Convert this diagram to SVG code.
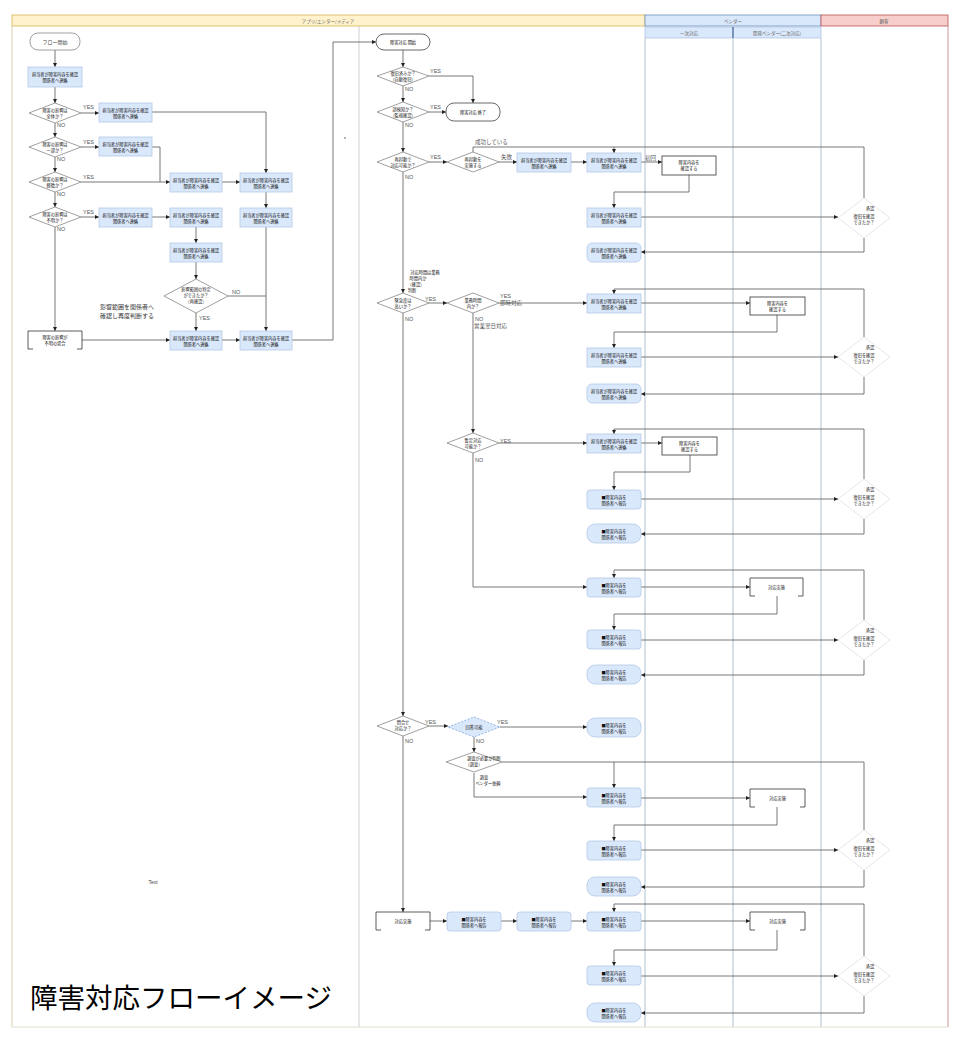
<svg xmlns="http://www.w3.org/2000/svg" width="960" height="1040" viewBox="0 0 960 1040">
<defs>
<marker id="a" viewBox="0 0 6 6" refX="6" refY="3" markerWidth="4" markerHeight="4" markerUnits="userSpaceOnUse" orient="auto"><path d="M0,0 L6,3 L0,6 z" fill="#222"/></marker>
<style>
.b{fill:#dae8fc;stroke:#b4c8e4;stroke-width:0.8}
.w{fill:#fff;stroke:#333;stroke-width:0.8}
.s{fill:#fff;stroke:#888;stroke-width:0.8}
.d{fill:#fff;stroke:#777;stroke-width:0.7}
.dd{fill:#dae8fc;stroke:#7ea6e0;stroke-width:0.8;stroke-dasharray:2 1.5}
.br{fill:none;stroke:#333;stroke-width:0.8}
.c{fill:none;stroke:#555;stroke-width:0.8;marker-end:url(#a)}
.n{fill:none;stroke:#555;stroke-width:0.8}
.t{font-family:"Noto Sans CJK JP","Liberation Sans",sans-serif;font-size:4.2px;fill:#111;text-anchor:middle}
.l{font-family:"Liberation Sans","Noto Sans CJK JP",sans-serif;font-size:5.5px;fill:#555}
.h{font-family:"Noto Sans CJK JP",sans-serif;font-size:4.5px;fill:#666;text-anchor:middle}
.lane{stroke:#c9d6de;stroke-width:1.5}
</style>
</defs>

<g id="lanes">
<rect x="12" y="15" width="633" height="11" fill="#fff2cc" stroke="#d6b656" stroke-width="0.8"/>
<text class="h" x="328" y="22.5">アプリ/エンター/メディア</text>
<rect x="645" y="15" width="176" height="11" fill="#dae8fc" stroke="#6c8ebf" stroke-width="0.8"/>
<text class="h" x="733" y="22.5">ベンダー</text>
<rect x="821" y="15" width="127" height="11" fill="#f8cecc" stroke="#b85450" stroke-width="0.8"/>
<text class="h" x="884" y="22.5">顧客</text>
<rect x="645" y="27" width="88" height="11" fill="#dae8fc" stroke="#9fb6d6" stroke-width="0.6"/>
<rect x="733" y="27" width="88" height="11" fill="#dae8fc" stroke="#9fb6d6" stroke-width="0.6"/>
<line x1="733" y1="27" x2="733" y2="38" stroke="#4a6a96" stroke-width="1.2"/>
<text class="h" x="689" y="34.5">一次対応</text>
<text class="h" x="777" y="34.5">開発ベンダー(二次対応)</text>
<line x1="12" y1="26" x2="12" y2="1027" stroke="#d8d2b0" stroke-width="1"/>
<line x1="12" y1="1027" x2="948" y2="1027" stroke="#e4e0cc" stroke-width="1"/>
<line x1="359" y1="26" x2="359" y2="1027" stroke="#cfcfcf" stroke-width="1"/>
<line class="lane" x1="645" y1="38" x2="645" y2="1027"/>
<line class="lane" x1="733" y1="38" x2="733" y2="1027"/>
<line class="lane" x1="821" y1="38" x2="821" y2="1027"/>
<line x1="948" y1="26" x2="948" y2="1027" stroke="#c99" stroke-width="1"/>
</g>

<g id="connectors">
<path class="c" d="M55,50V67"/>
<path class="c" d="M55,87V103"/>
<path class="c" d="M81,113H99"/>
<path class="c" d="M152,112H266V173"/>
<path class="c" d="M55,123V137"/>
<path class="c" d="M81,147H99"/>
<path class="n" d="M152,147H160V182"/>
<path class="c" d="M55,157V172"/>
<path class="c" d="M81,182H170"/>
<path class="c" d="M222,182H240"/>
<path class="c" d="M55,192V207"/>
<path class="c" d="M81,217H99"/>
<path class="c" d="M152,217H170"/>
<path class="c" d="M266,192V208"/>
<path class="c" d="M196,227V243"/>
<path class="c" d="M196,262V279"/>
<path class="n" d="M228,296H266"/>
<path class="c" d="M266,227V331"/>
<path class="c" d="M196,313V331"/>
<path class="c" d="M55,227V331"/>
<path class="c" d="M82,340H170"/>
<path class="c" d="M222,340H240"/>
<path class="c" d="M292,340H333V42H376"/>

<path class="c" d="M403,50V67"/>
<path class="c" d="M429,76H473V103"/>
<path class="c" d="M403,86V102"/>
<path class="c" d="M429,112H446"/>
<path class="c" d="M403,122V152"/>
<path class="c" d="M429,162H447"/>
<path class="c" d="M499,162H517"/>
<path class="c" d="M571,162H587"/>
<path class="c" d="M641,162H662"/>
<path class="n" d="M473,152V147H864V198"/>
<path class="c" d="M614,147V153"/>
<path class="c" d="M689,175V192H614V208"/>
<path class="c" d="M641,217H838"/>
<path class="c" d="M864,238V252H641"/>

<path class="c" d="M403,172V293"/>
<path class="c" d="M429,303H447"/>
<path class="c" d="M499,303H587"/>
<path class="c" d="M641,303H750"/>
<path class="c" d="M777,315V332H614V348"/>
<path class="c" d="M641,357H838"/>
<path class="c" d="M864,337V289H614V294"/>
<path class="c" d="M864,377V394H641"/>
<path class="c" d="M473,313V433"/>
<path class="c" d="M473,453V587H587"/>

<path class="c" d="M499,443H587"/>
<path class="c" d="M641,443H662"/>
<path class="c" d="M690,455V472H614V490"/>
<path class="c" d="M641,499H838"/>
<path class="c" d="M864,479V429H614V434"/>
<path class="c" d="M864,519V534H641"/>

<path class="c" d="M641,587H750"/>
<path class="c" d="M777,596V614H614V630"/>
<path class="c" d="M641,640H838"/>
<path class="c" d="M864,620V570H614V578"/>
<path class="c" d="M864,660V675H641"/>

<path class="c" d="M403,313V716"/>
<path class="c" d="M429,726H448"/>
<path class="c" d="M500,727H587"/>
<path class="c" d="M474,737V752"/>
<path class="n" d="M502,762H864V830"/>
<path class="c" d="M614,762V788"/>
<path class="c" d="M474,773V797H587"/>
<path class="c" d="M641,798H750"/>
<path class="c" d="M777,807V825H614V841"/>
<path class="c" d="M641,850H838"/>
<path class="c" d="M864,870V887H641"/>

<path class="c" d="M403,736V912"/>
<path class="c" d="M430,921H447"/>
<path class="c" d="M501,921H517"/>
<path class="c" d="M571,921H587"/>
<path class="c" d="M641,921H750"/>
<path class="c" d="M777,930V950H614V966"/>
<path class="c" d="M641,976H838"/>
<path class="c" d="M864,956V904H614V912"/>
<path class="c" d="M864,996V1013H641"/>
</g>

<g id="labels">
<text class="l" x="83" y="109">YES</text><text class="l" x="57" y="127">NO</text>
<text class="l" x="83" y="144">YES</text><text class="l" x="57" y="161">NO</text>
<text class="l" x="83" y="179">YES</text><text class="l" x="57" y="196">NO</text>
<text class="l" x="83" y="214">YES</text><text class="l" x="57" y="231">NO</text>
<text class="l" x="232" y="294">NO</text><text class="l" x="199" y="320">YES</text>
<text class="l" x="430" y="73">YES</text><text class="l" x="405" y="91">NO</text>
<text class="l" x="430" y="109">YES</text><text class="l" x="405" y="127">NO</text>
<text class="l" x="430" y="159">YES</text><text class="l" x="405" y="179">NO</text>
<text class="l" x="475" y="144">成功している</text>
<text class="l" x="501" y="159">失敗</text>
<text class="l" x="645" y="160">初回</text>
<text class="l" x="425" y="301">YES</text><text class="l" x="405" y="321">NO</text>
<text class="l" x="500" y="298">YES</text><text class="l" x="500" y="305">即時対応</text>
<text class="l" x="475" y="321">NO</text><text class="l" x="474" y="328">営業翌日対応</text>
<text class="l" x="500" y="443">YES</text><text class="l" x="475" y="462">NO</text>
<text class="l" x="425" y="724">YES</text><text class="l" x="405" y="743">NO</text>
<text class="l" x="497" y="724">YES</text><text class="l" x="476" y="743">NO</text>
</g>

<g id="n-start"><rect class="s" x="30" y="33" width="50" height="17" rx="8"/><text class="t" x="55" y="43.5" style="font-size:5px;fill:#444">フロー開始</text></g>
<g id="n-a1"><rect class="b" x="28" y="67" width="54" height="20"/><text class="t" x="55" y="76">担当者が障害内容を確認</text><text class="t" x="55" y="82">関係者へ連絡</text></g>
<g id="n-d1"><path class="d" d="M29,113L55,103L81,113L55,123Z"/><text class="t" x="55" y="112">障害の影響は</text><text class="t" x="55" y="117.5">全体か？</text></g>
<g id="n-b1"><rect class="b" x="99" y="103" width="53" height="19"/><text class="t" x="125.5" y="111.5">担当者が障害内容を確認</text><text class="t" x="125.5" y="117.5">関係者へ連絡</text></g>
<g id="n-d2"><path class="d" d="M29,147L55,137L81,147L55,157Z"/><text class="t" x="55" y="146">障害の影響は</text><text class="t" x="55" y="151.5">一部か？</text></g>
<g id="n-b2"><rect class="b" x="99" y="137" width="53" height="19"/><text class="t" x="125.5" y="145.5">担当者が障害内容を確認</text><text class="t" x="125.5" y="151.5">関係者へ連絡</text></g>
<g id="n-d3"><path class="d" d="M29,182L55,172L81,182L55,192Z"/><text class="t" x="55" y="181">障害の影響は</text><text class="t" x="55" y="186.5">軽微か？</text></g>
<g id="n-c3"><rect class="b" x="170" y="173" width="52" height="19"/><text class="t" x="196" y="181.5">担当者が障害内容を確認</text><text class="t" x="196" y="187.5">関係者へ連絡</text></g>
<g id="n-e3"><rect class="b" x="240" y="173" width="52" height="19"/><text class="t" x="266" y="181.5">担当者が障害内容を確認</text><text class="t" x="266" y="187.5">関係者へ連絡</text></g>
<g id="n-d4"><path class="d" d="M29,217L55,207L81,217L55,227Z"/><text class="t" x="55" y="216">障害の影響は</text><text class="t" x="55" y="221.5">不明か？</text></g>
<g id="n-b4"><rect class="b" x="99" y="208" width="53" height="19"/><text class="t" x="125.5" y="216.5">担当者が障害内容を確認</text><text class="t" x="125.5" y="222.5">関係者へ連絡</text></g>
<g id="n-c4"><rect class="b" x="170" y="208" width="52" height="19"/><text class="t" x="196" y="216.5">担当者が障害内容を確認</text><text class="t" x="196" y="222.5">関係者へ連絡</text></g>
<g id="n-e4"><rect class="b" x="240" y="208" width="52" height="19"/><text class="t" x="266" y="216.5">担当者が障害内容を確認</text><text class="t" x="266" y="222.5">関係者へ連絡</text></g>
<g id="n-c5"><rect class="b" x="170" y="243" width="52" height="19"/><text class="t" x="196" y="251.5">担当者が障害内容を確認</text><text class="t" x="196" y="257.5">関係者へ連絡</text></g>
<g id="n-d5"><path class="d" d="M164,296L196,279L228,296L196,313Z"/><text class="t" x="196" y="291">影響範囲の特定</text><text class="t" x="196" y="297">ができたか？</text><text class="t" x="196" y="303">（再確認）</text></g>
<g id="n-note1"><text class="t" x="127" y="309" style="font-size:6px;fill:#333">影響範囲を関係者へ</text><text class="t" x="127" y="318" style="font-size:6px;fill:#333">確認し再度判断する</text></g>
<g id="n-l1"><path class="br" d="M28,349V331H82V349M28,349H33M82,349H77"/><text class="t" x="55" y="339">障害の影響が</text><text class="t" x="55" y="345">不明の場合</text></g>
<g id="n-c6"><rect class="b" x="170" y="331" width="52" height="19"/><text class="t" x="196" y="339.5">担当者が障害内容を確認</text><text class="t" x="196" y="345.5">関係者へ連絡</text></g>
<g id="n-e6"><rect class="b" x="240" y="331" width="52" height="19"/><text class="t" x="266" y="339.5">担当者が障害内容を確認</text><text class="t" x="266" y="345.5">関係者へ連絡</text></g>
<g id="n-dot"><circle cx="345" cy="138" r="0.7" fill="#333"/></g>

<g id="n-s2"><rect class="s" x="376" y="34" width="54" height="16" rx="8" style="stroke:#444"/><text class="t" x="403" y="44">障害対応 開始</text></g>
<g id="n-m-d1"><path class="d" d="M377,76L403,67L429,76L403,86Z"/><text class="t" x="403" y="75">復旧済みか？</text><text class="t" x="403" y="80.5">（自動復旧）</text></g>
<g id="n-t2"><rect class="s" x="446" y="103" width="54" height="18" rx="8" style="stroke:#444"/><text class="t" x="473" y="113.5">障害対応 終了</text></g>
<g id="n-m-d2"><path class="d" d="M377,112L403,102L429,112L403,122Z"/><text class="t" x="403" y="111">誤検知か？</text><text class="t" x="403" y="116.5">（監視確認）</text></g>
<g id="n-m-d3"><path class="d" d="M377,162L403,152L429,162L403,172Z"/><text class="t" x="403" y="161">再起動で</text><text class="t" x="403" y="166.5">対応可能か？</text></g>
<g id="n-m-d3b"><path class="d" d="M447,162L473,152L499,162L473,172Z"/><text class="t" x="473" y="161">再起動を</text><text class="t" x="473" y="166.5">実施する</text></g>
<g id="n-m1"><rect class="b" x="517" y="153" width="54" height="19"/><text class="t" x="544" y="161.5">担当者が障害内容を確認</text><text class="t" x="544" y="167.5">関係者へ連絡</text></g>
<g id="n-m2"><rect class="b" x="587" y="153" width="54" height="19"/><text class="t" x="614" y="161.5">担当者が障害内容を確認</text><text class="t" x="614" y="167.5">関係者へ連絡</text></g>
<g id="n-w1"><rect class="w" x="662" y="156" width="54" height="19"/><text class="t" x="689" y="164">障害内容を</text><text class="t" x="689" y="170">確認する</text></g>
<g id="n-m3"><rect class="b" x="587" y="208" width="54" height="19"/><text class="t" x="614" y="216.5">担当者が障害内容を確認</text><text class="t" x="614" y="222.5">関係者へ連絡</text></g>
<g id="n-r1"><path class="d" d="M838,218L864,198L890,218L864,238Z" style="stroke:#ddd"/><text class="t" x="870" y="210">承認</text><text class="t" x="864" y="218">復旧を確認</text><text class="t" x="864" y="224">できたか？</text></g>
<g id="n-m4"><rect class="b" x="587" y="243" width="54" height="19" rx="5"/><text class="t" x="614" y="251.5">担当者が障害内容を確認</text><text class="t" x="614" y="257.5">関係者へ連絡</text></g>

<g id="n-note2"><text class="t" x="425" y="274">対応時間は業務</text><text class="t" x="418" y="280">時間内か</text><text class="t" x="416" y="286">（確認）</text><text class="t" x="412" y="292">判断</text></g>
<g id="n-m-d4"><path class="d" d="M377,303L403,293L429,303L403,313Z"/><text class="t" x="403" y="302">緊急度は</text><text class="t" x="403" y="307.5">高いか？</text></g>
<g id="n-m-d4b"><path class="d" d="M447,303L473,293L499,303L473,313Z"/><text class="t" x="473" y="302">業務時間</text><text class="t" x="473" y="307.5">内か？</text></g>
<g id="n-m5"><rect class="b" x="587" y="294" width="54" height="19"/><text class="t" x="614" y="302.5">担当者が障害内容を確認</text><text class="t" x="614" y="308.5">関係者へ連絡</text></g>
<g id="n-w2"><rect class="w" x="750" y="297" width="55" height="18"/><text class="t" x="777.5" y="305">障害内容を</text><text class="t" x="777.5" y="311">確認する</text></g>
<g id="n-m6"><rect class="b" x="587" y="348" width="54" height="19"/><text class="t" x="614" y="356.5">担当者が障害内容を確認</text><text class="t" x="614" y="362.5">関係者へ連絡</text></g>
<g id="n-r2"><path class="d" d="M838,357L864,337L890,357L864,377Z" style="stroke:#ddd"/><text class="t" x="870" y="349">承認</text><text class="t" x="864" y="357">復旧を確認</text><text class="t" x="864" y="363">できたか？</text></g>
<g id="n-m7"><rect class="b" x="587" y="384" width="54" height="19" rx="5"/><text class="t" x="614" y="392.5">担当者が障害内容を確認</text><text class="t" x="614" y="398.5">関係者へ連絡</text></g>

<g id="n-m-d5"><path class="d" d="M447,443L473,433L499,443L473,453Z"/><text class="t" x="473" y="442">暫定対応</text><text class="t" x="473" y="447.5">可能か？</text></g>
<g id="n-m8"><rect class="b" x="587" y="434" width="54" height="19"/><text class="t" x="614" y="442.5">担当者が障害内容を確認</text><text class="t" x="614" y="448.5">関係者へ連絡</text></g>
<g id="n-w3"><rect class="w" x="662" y="437" width="55" height="18"/><text class="t" x="689.5" y="445">障害内容を</text><text class="t" x="689.5" y="451">確認する</text></g>
<g id="n-m9"><rect class="b" x="587" y="490" width="54" height="19" rx="3"/><text class="t" x="614" y="498.5">■障害内容を</text><text class="t" x="614" y="504.5">関係者へ報告</text></g>
<g id="n-r3"><path class="d" d="M838,499L864,479L890,499L864,519Z" style="stroke:#ddd"/><text class="t" x="870" y="491">承認</text><text class="t" x="864" y="499">復旧を確認</text><text class="t" x="864" y="505">できたか？</text></g>
<g id="n-m10"><rect class="b" x="587" y="524" width="54" height="19" rx="8"/><text class="t" x="614" y="532.5">■障害内容を</text><text class="t" x="614" y="538.5">関係者へ報告</text></g>

<g id="n-m11"><rect class="b" x="587" y="578" width="54" height="19" rx="3"/><text class="t" x="614" y="586.5">■障害内容を</text><text class="t" x="614" y="592.5">関係者へ報告</text></g>
<g id="n-w4"><path class="br" d="M750,596V578H803V596M750,596H755M803,596H798"/><text class="t" x="776.5" y="589">対応実施</text></g>
<g id="n-m12"><rect class="b" x="587" y="630" width="54" height="19" rx="3"/><text class="t" x="614" y="638.5">■障害内容を</text><text class="t" x="614" y="644.5">関係者へ報告</text></g>
<g id="n-r4"><path class="d" d="M838,640L864,620L890,640L864,660Z" style="stroke:#ddd"/><text class="t" x="870" y="632">承認</text><text class="t" x="864" y="640">復旧を確認</text><text class="t" x="864" y="646">できたか？</text></g>
<g id="n-m13"><rect class="b" x="587" y="665" width="54" height="19" rx="8"/><text class="t" x="614" y="673.5">■障害内容を</text><text class="t" x="614" y="679.5">関係者へ報告</text></g>

<g id="n-m-d6"><path class="d" d="M377,726L403,716L429,726L403,736Z"/><text class="t" x="403" y="724">問合せ</text><text class="t" x="403" y="730">対応か？</text></g>
<g id="n-m-d6b"><path class="dd" d="M448,727L474,717L500,727L474,737Z"/><text class="t" x="474" y="729">回答可能</text></g>
<g id="n-m14"><rect class="b" x="587" y="718" width="54" height="19" rx="8"/><text class="t" x="614" y="726.5">■障害内容を</text><text class="t" x="614" y="732.5">関係者へ報告</text></g>
<g id="n-m-d7"><path class="d" d="M446,762L474,752L502,762L474,772Z"/><text class="t" x="484" y="760">調査が必要か判断</text><text class="t" x="474" y="766">（調査）</text></g>
<g id="n-note3"><text class="t" x="484" y="779">調査</text><text class="t" x="488" y="785">ベンダー依頼</text></g>
<g id="n-m15"><rect class="b" x="587" y="788" width="54" height="19" rx="3"/><text class="t" x="614" y="796.5">■障害内容を</text><text class="t" x="614" y="802.5">関係者へ報告</text></g>
<g id="n-w5"><path class="br" d="M750,807V789H805V807M750,807H755M805,807H800"/><text class="t" x="777.5" y="800">対応実施</text></g>
<g id="n-m16"><rect class="b" x="587" y="841" width="54" height="19" rx="3"/><text class="t" x="614" y="849.5">■障害内容を</text><text class="t" x="614" y="855.5">関係者へ報告</text></g>
<g id="n-r5"><path class="d" d="M838,850L864,830L890,850L864,870Z" style="stroke:#ddd"/><text class="t" x="870" y="842">承認</text><text class="t" x="864" y="850">復旧を確認</text><text class="t" x="864" y="856">できたか？</text></g>
<g id="n-m17"><rect class="b" x="587" y="877" width="54" height="19" rx="8"/><text class="t" x="614" y="885.5">■障害内容を</text><text class="t" x="614" y="891.5">関係者へ報告</text></g>

<g id="n-w6"><path class="br" d="M376,930V912H430V930M376,930H381M430,930H425"/><text class="t" x="403" y="923">対応実施</text></g>
<g id="n-m18"><rect class="b" x="447" y="912" width="54" height="19" rx="3"/><text class="t" x="474" y="920.5">■障害内容を</text><text class="t" x="474" y="926.5">関係者へ報告</text></g>
<g id="n-m19"><rect class="b" x="517" y="912" width="54" height="19" rx="3"/><text class="t" x="544" y="920.5">■障害内容を</text><text class="t" x="544" y="926.5">関係者へ報告</text></g>
<g id="n-m20"><rect class="b" x="587" y="912" width="54" height="19" rx="3"/><text class="t" x="614" y="920.5">■障害内容を</text><text class="t" x="614" y="926.5">関係者へ報告</text></g>
<g id="n-w7"><path class="br" d="M750,930V912H805V930M750,930H755M805,930H800"/><text class="t" x="777.5" y="923">対応実施</text></g>
<g id="n-m21"><rect class="b" x="587" y="966" width="54" height="19" rx="3"/><text class="t" x="614" y="974.5">■障害内容を</text><text class="t" x="614" y="980.5">関係者へ報告</text></g>
<g id="n-r6"><path class="d" d="M838,976L864,956L890,976L864,996Z" style="stroke:#ddd"/><text class="t" x="870" y="968">承認</text><text class="t" x="864" y="976">復旧を確認</text><text class="t" x="864" y="982">できたか？</text></g>
<g id="n-m22"><rect class="b" x="587" y="1003" width="54" height="19" rx="8"/><text class="t" x="614" y="1011.5">■障害内容を</text><text class="t" x="614" y="1017.5">関係者へ報告</text></g>

<g id="n-text"><text x="153" y="884" style="font-family:'Liberation Sans',sans-serif;font-size:5px;fill:#444" text-anchor="middle">Text</text></g>
<g id="n-title"><text x="30" y="1008" style="font-family:'Noto Sans CJK JP',sans-serif;font-size:27.5px;fill:#000">障害対応フローイメージ</text></g>
</svg>
